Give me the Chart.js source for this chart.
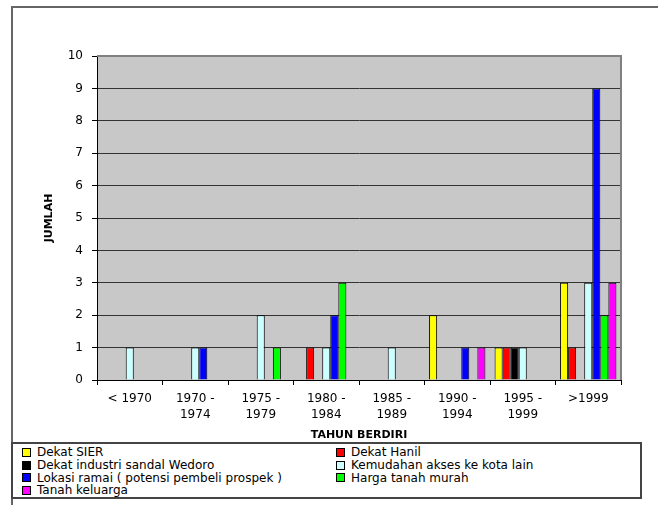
<!DOCTYPE html>
<html>
<head>
<meta charset="utf-8">
<script src="https://cdn.jsdelivr.net/npm/chart.js@4.4.0/dist/chart.umd.min.js"></script>
<style>
  html, body { margin: 0; padding: 0; background: #fff; }
  body { width: 658px; height: 505px; position: relative; overflow: hidden; font-family: "DejaVu Sans", sans-serif; }
  #frame { position: absolute; left: 11px; top: 6px; width: 700px; height: 600px; border: 2px solid #666; box-sizing: border-box; }
  #chartBox { position: absolute; left: 0; top: 0; width: 658px; height: 505px; }
  #legend { position: absolute; left: 11px; top: 442px; width: 631px; height: 57px; border: 2px solid #444; box-sizing: border-box; background: #fff;
            display: grid; grid-template-columns: 314px auto; padding: 2px 0 0 9px; font-size: 12px; line-height: 12.3px; color: #000; }
  .item { display: flex; align-items: center; white-space: nowrap; }
  .swatch { width: 7px; height: 7px; border: 1px solid #000; margin-right: 6px; }
</style>
</head>
<body>
<div id="frame"></div>
<div id="chartBox"><canvas id="chart"></canvas></div>
<div id="legend"></div>
<script>
const categories = ["< 1970", ["1970 -", "1974"], ["1975 -", "1979"], ["1980 -", "1984"],
                    ["1985 -", "1989"], ["1990 -", "1994"], ["1995 -", "1999"], ">1999"];

const seriesNames = [
  "Dekat SIER",
  "Dekat Hanil",
  "Dekat industri sandal Wedoro",
  "Kemudahan akses ke kota lain",
  "Lokasi ramai ( potensi pembeli prospek )",
  "Harga tanah murah",
  "Tanah keluarga"
];

const dekatSier      = [0, 0, 0, 0, 0, 2, 1, 3];
const dekatHanil     = [0, 0, 0, 1, 0, 0, 1, 1];
const dekatWedoro    = [0, 0, 0, 0, 0, 0, 1, 0];
const kemudahanAkses = [1, 1, 2, 1, 1, 0, 1, 3];
const lokasiRamai    = [0, 1, 0, 2, 0, 1, 0, 9];
const hargaMurah     = [0, 0, 1, 3, 0, 0, 0, 2];
const tanahKeluarga  = [0, 0, 0, 0, 0, 1, 0, 3];

const seriesValues = [dekatSier, dekatHanil, dekatWedoro, kemudahanAkses, lokasiRamai, hargaMurah, tanahKeluarga];
const seriesColors = ["#ffff00", "#ff0000", "#000000", "#ccffff", "#0000ff", "#00ff00", "#ff00ff"];

const yTicks = [0, 1, 2, 3, 4, 5, 6, 7, 8, 9, 10];

const plotBg = {
  id: "plotBg",
  beforeDraw(chart) {
    const { ctx, chartArea: a } = chart;
    ctx.save();
    ctx.fillStyle = "#c8c8c8";
    ctx.fillRect(a.left, a.top, a.right - a.left, a.bottom - a.top);
    ctx.restore();
  },
  afterDraw(chart) {
    const { ctx, chartArea: a } = chart;
    ctx.save();
    ctx.strokeStyle = "#808080";
    ctx.lineWidth = 2;
    ctx.beginPath();
    ctx.moveTo(a.left, a.top);
    ctx.lineTo(a.right, a.top);
    ctx.lineTo(a.right, a.bottom);
    ctx.stroke();
    ctx.restore();
  }
};

const datasets = seriesNames.map((name, i) => ({
  label: name,
  data: seriesValues[i],
  backgroundColor: seriesColors[i],
  borderColor: "#000",
  borderWidth: 1,
  categoryPercentage: 0.86,
  barPercentage: 1
}));

Chart.defaults.font.family = '"DejaVu Sans", sans-serif';
Chart.defaults.color = "#000";

const chart = new Chart(document.getElementById("chart"), {
  type: "bar",
  data: { labels: categories, datasets },
  options: {
    responsive: true,
    maintainAspectRatio: false,
    animation: false,
    layout: { padding: { left: 0, top: 56, right: 37, bottom: 63 } },
    plugins: { legend: { display: false }, tooltip: { enabled: false } },
    scales: {
      x: {
        afterFit: s => { s.height = 62; },
        grid: { offset: true, drawOnChartArea: false, drawTicks: true, tickLength: 5, tickColor: "#000" },
        border: { color: "#000", width: 1 },
        ticks: { padding: 6, autoSkip: false, maxRotation: 0, font: { size: 12, lineHeight: 1.35 }, color: "#000" },
        title: { display: true, text: "TAHUN BERDIRI", font: { size: 11, weight: "bold" }, padding: { top: 0, bottom: 0 }, color: "#000" }
      },
      y: {
        min: 0,
        max: 10,
        afterFit: s => { s.width = 97; },
        afterBuildTicks: s => { s.ticks = yTicks.map(v => ({ value: v })); },
        grid: { color: "#333", lineWidth: 1, tickLength: 5, tickColor: "#000" },
        border: { color: "#000", width: 1 },
        ticks: { padding: 9, font: { size: 12 }, color: "#000" },
        title: { display: true, text: "JUMLAH", font: { size: 11, weight: "bold" }, padding: { top: 43, bottom: 0 }, color: "#000" }
      }
    }
  },
  plugins: [plotBg]
});

const legendEl = document.getElementById("legend");
chart.data.datasets.forEach(ds => {
  const item = document.createElement("div");
  item.className = "item";
  item.innerHTML = `<span class="swatch" style="background:${ds.backgroundColor}"></span><span>${ds.label}</span>`;
  legendEl.appendChild(item);
});
</script>
</body>
</html>
